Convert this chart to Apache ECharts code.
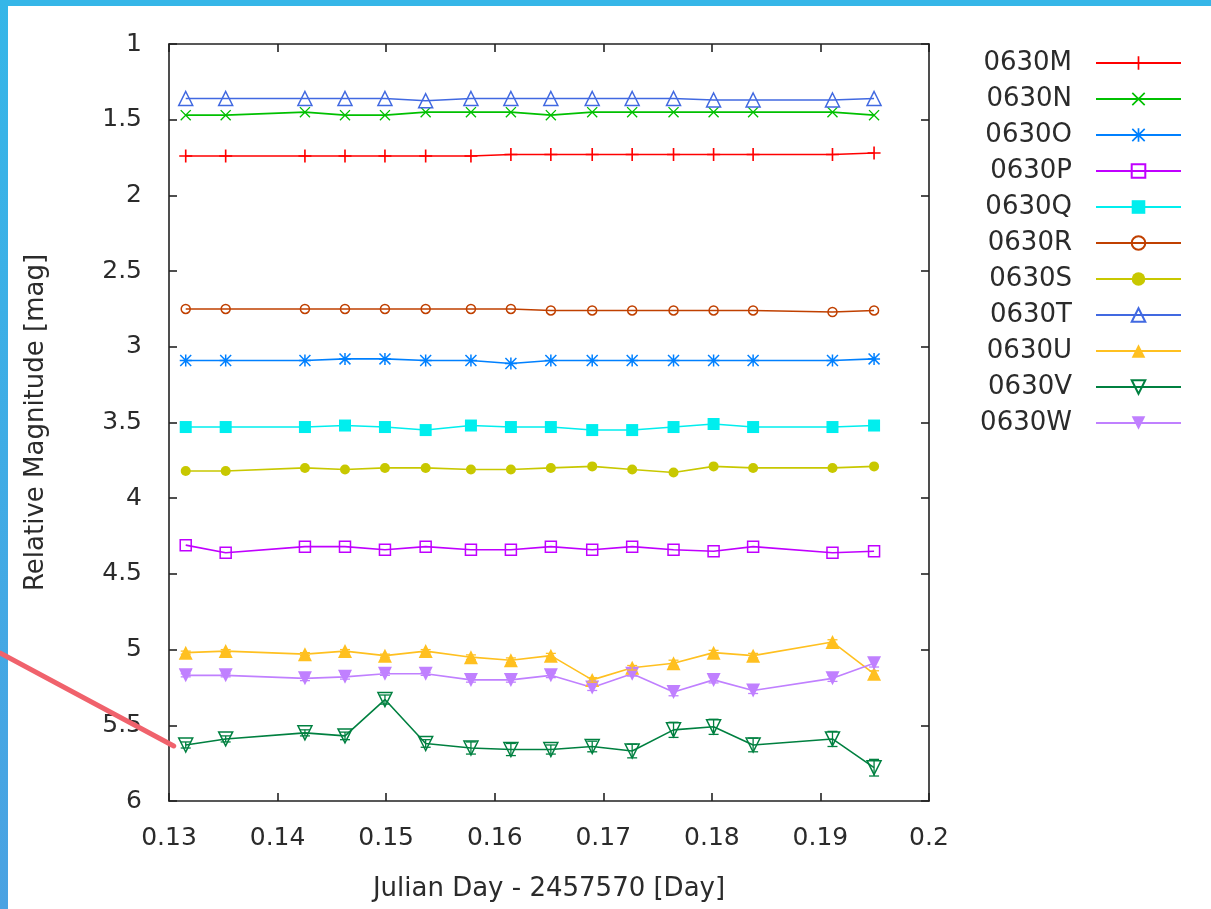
<!DOCTYPE html>
<html><head><meta charset="utf-8">
<script src="https://cdn.jsdelivr.net/npm/echarts@6/dist/echarts.min.js"></script>
<style>html,body{margin:0;padding:0;background:#fff}#c{width:1211px;height:909px}</style>
</head><body><div id="c"></div>
<script>
// ---- data ----
const julianDay = [0.13154, 0.13522, 0.14252, 0.14621, 0.14989, 0.15364, 0.15781, 0.16149,
                   0.16517, 0.16898, 0.17266, 0.17647, 0.18016, 0.18380, 0.19111, 0.19494];
const seriesNames = ['0630M','0630N','0630O','0630P','0630Q','0630R','0630S','0630T','0630U','0630V','0630W'];
const mag0630M = [1.74,1.74,1.74,1.74,1.74,1.74,1.74,1.73,1.73,1.73,1.73,1.73,1.73,1.73,1.73,1.72];
const mag0630N = [1.47,1.47,1.45,1.47,1.47,1.45,1.45,1.45,1.47,1.45,1.45,1.45,1.45,1.45,1.45,1.47];
const mag0630O = [3.09,3.09,3.09,3.08,3.08,3.09,3.09,3.11,3.09,3.09,3.09,3.09,3.09,3.09,3.09,3.08];
const mag0630P = [4.31,4.36,4.32,4.32,4.34,4.32,4.34,4.34,4.32,4.34,4.32,4.34,4.35,4.32,4.36,4.35];
const mag0630Q = [3.53,3.53,3.53,3.52,3.53,3.55,3.52,3.53,3.53,3.55,3.55,3.53,3.51,3.53,3.53,3.52];
const mag0630R = [2.75,2.75,2.75,2.75,2.75,2.75,2.75,2.75,2.76,2.76,2.76,2.76,2.76,2.76,2.77,2.76];
const mag0630S = [3.82,3.82,3.80,3.81,3.80,3.80,3.81,3.81,3.80,3.79,3.81,3.83,3.79,3.80,3.80,3.79];
const mag0630T = [1.36,1.36,1.36,1.36,1.36,1.375,1.36,1.36,1.36,1.36,1.36,1.36,1.37,1.37,1.37,1.36];
const mag0630U = [5.02,5.01,5.03,5.01,5.04,5.01,5.05,5.07,5.04,5.20,5.12,5.09,5.02,5.04,4.95,5.16];
const mag0630V = [5.63,5.59,5.55,5.57,5.33,5.62,5.65,5.66,5.66,5.64,5.67,5.53,5.51,5.63,5.59,5.78];
const mag0630W = [5.17,5.17,5.19,5.18,5.16,5.16,5.20,5.20,5.17,5.25,5.16,5.28,5.20,5.27,5.19,5.09];
const err0630U = [0.01,0.01,0.01,0.01,0.01,0.01,0.015,0.015,0.015,0.015,0.015,0.02,0.015,0.015,0.015,0.02];
const err0630V = [0.02,0.02,0.02,0.025,0.03,0.025,0.04,0.04,0.03,0.035,0.045,0.05,0.05,0.045,0.05,0.055];
const err0630W = [0.01,0.01,0.015,0.015,0.01,0.01,0.015,0.015,0.015,0.02,0.015,0.025,0.02,0.02,0.02,0.025];
const xTickLabelsRange = {min: 0.13, max: 0.20, step: 0.01};
const yTickLabelsRange = {min: 1, max: 6, step: 0.5};

// ---- styling ----
const FONT = 'DejaVu Sans';
const TXT = '#2b2b2b';
const colors = ['#ff0000','#00c000','#0080ff','#c000ff','#00eeee','#c04000','#c8c800','#4169e1','#ffc020','#008040','#c080ff'];
const PLUS = 'path://M10.5,0H13.5V10.5H24V13.5H13.5V24H10.5V13.5H0V10.5H10.5Z';
const CROSS = 'path://M0,2.1L2.1,0L24,21.9L21.9,24ZM21.9,0L24,2.1L2.1,24L0,21.9Z';
const STAR = 'path://M10.5,0H13.5V10.5H24V13.5H13.5V24H10.5V13.5H0V10.5H10.5ZM0,2.1L2.1,0L24,21.9L21.9,24ZM21.9,0L24,2.1L2.1,24L0,21.9Z';
const markers = [
  {symbol: PLUS, size: 13, hollow: false, rot: 0},
  {symbol: CROSS, size: 11, hollow: false, rot: 0},
  {symbol: STAR, size: 12, hollow: false, rot: 0},
  {symbol: 'rect', size: 11, hollow: true, rot: 0},
  {symbol: 'rect', size: 12, hollow: false, rot: 0},
  {symbol: 'circle', size: 9, hollow: true, rot: 0},
  {symbol: 'circle', size: 10, hollow: false, rot: 0},
  {symbol: 'triangle', size: 14, hollow: true, rot: 0},
  {symbol: 'triangle', size: 14, hollow: false, rot: 0},
  {symbol: 'triangle', size: 14, hollow: true, rot: 180},
  {symbol: 'triangle', size: 14, hollow: false, rot: 180}
];
const allMags = [mag0630M,mag0630N,mag0630O,mag0630P,mag0630Q,mag0630R,mag0630S,mag0630T,mag0630U,mag0630V,mag0630W];
const errSets = {'0630U': err0630U, '0630V': err0630V, '0630W': err0630W};

const series = seriesNames.map((name, i) => {
  const m = markers[i], c = colors[i];
  return {
    name, type: 'line', xAxisIndex: 0, yAxisIndex: 0,
    data: julianDay.map((x, k) => [x, allMags[i][k]]),
    symbol: m.symbol, symbolSize: m.size, symbolRotate: m.rot, showAllSymbol: true,
    lineStyle: {color: c, width: 1.6},
    itemStyle: m.hollow ? {color: 'rgba(255,255,255,0)', borderColor: c, borderWidth: 1.5}
                        : {color: c, borderWidth: 0},
    emphasis: {disabled: true}, z: 2
  };
});

function errRender(color) {
  return function (params, api) {
    const x = api.value(0), y = api.value(1), e = api.value(2);
    const a = api.coord([x, y - e]), b = api.coord([x, y + e]);
    const hw = 5, st = {stroke: color, lineWidth: 1.3};
    return {type: 'group', children: [
      {type: 'line', shape: {x1: a[0], y1: a[1], x2: b[0], y2: b[1]}, style: st},
      {type: 'line', shape: {x1: a[0]-hw, y1: a[1], x2: a[0]+hw, y2: a[1]}, style: st},
      {type: 'line', shape: {x1: b[0]-hw, y1: b[1], x2: b[0]+hw, y2: b[1]}, style: st}
    ]};
  };
}
Object.keys(errSets).forEach(name => {
  const i = seriesNames.indexOf(name);
  series.push({
    name, type: 'custom', xAxisIndex: 0, yAxisIndex: 0, z: 3,
    renderItem: errRender(colors[i]),
    encode: {x: 0, y: 1},
    data: julianDay.map((x, k) => [x, allMags[i][k], errSets[name][k]]),
    silent: true
  });
});

const fmt = v => String(+(+v).toFixed(2));
const axLine = {show: true, lineStyle: {color: '#222', width: 1.6}};
const tick = {show: true, inside: true, length: 8, lineStyle: {color: '#222', width: 1.6}};

const chart = echarts.init(document.getElementById('c'), null, {renderer: 'canvas'});
chart.setOption({
  animation: false,
  backgroundColor: '#fff',
  grid: {left: 169, right: 282, top: 44, bottom: 108, containLabel: false},
  xAxis: [
    {type: 'value', min: xTickLabelsRange.min, max: xTickLabelsRange.max, interval: xTickLabelsRange.step,
     position: 'bottom', axisLine: axLine, axisTick: tick, splitLine: {show: false},
     axisLabel: {formatter: fmt, color: TXT, fontFamily: FONT, fontSize: 25, margin: 25},
     name: 'Julian Day - 2457570 [Day]', nameLocation: 'middle', nameGap: 75,
     nameTextStyle: {color: TXT, fontFamily: FONT, fontSize: 26}},
    {type: 'value', min: xTickLabelsRange.min, max: xTickLabelsRange.max, interval: xTickLabelsRange.step,
     position: 'top', axisLine: axLine, axisTick: tick, splitLine: {show: false}, axisLabel: {show: false}}
  ],
  yAxis: [
    {type: 'value', inverse: true, min: yTickLabelsRange.min, max: yTickLabelsRange.max, interval: yTickLabelsRange.step,
     position: 'left', axisLine: axLine, axisTick: tick, splitLine: {show: false},
     axisLabel: {formatter: fmt, color: TXT, fontFamily: FONT, fontSize: 25, margin: 27},
     name: 'Relative Magnitude [mag]', nameLocation: 'middle', nameRotate: 90, nameGap: 120,
     nameTextStyle: {color: TXT, fontFamily: FONT, fontSize: 26}},
    {type: 'value', inverse: true, min: yTickLabelsRange.min, max: yTickLabelsRange.max, interval: yTickLabelsRange.step,
     position: 'right', axisLine: axLine, axisTick: tick, splitLine: {show: false}, axisLabel: {show: false}}
  ],
  legend: {
    show: true, orient: 'vertical', right: 29, top: 50, padding: 0,
    itemWidth: 85, itemHeight: 17, itemGap: 10, align: 'right',
    data: seriesNames, selectedMode: false,
    textStyle: {color: TXT, fontFamily: FONT, fontSize: 26, lineHeight: 26, padding: [0, 19, 0, 0]}
  },
  series
});

// frame strips and annotation arrow (decoration)
const p0 = chart.convertToPixel({xAxisIndex: 0, yAxisIndex: 0}, [julianDay[0], mag0630V[0]]);
chart.setOption({
  graphic: [
    {type: 'rect', shape: {x: 0, y: 0, width: 1211, height: 6}, style: {fill: '#35b6e8'}, z: 10},
    {type: 'rect', shape: {x: 0, y: 0, width: 8, height: 909},
     style: {fill: new echarts.graphic.LinearGradient(0, 0, 0, 1, [{offset: 0, color: '#35b6e8'}, {offset: 1, color: '#4aa2e2'}])}, z: 10},
    {type: 'line', shape: {x1: 0, y1: 653, x2: p0[0] - 12, y2: p0[1] + 1},
     style: {stroke: '#f0626c', lineWidth: 5, lineCap: 'round'}, z: 11}
  ]
});
</script></body></html>
